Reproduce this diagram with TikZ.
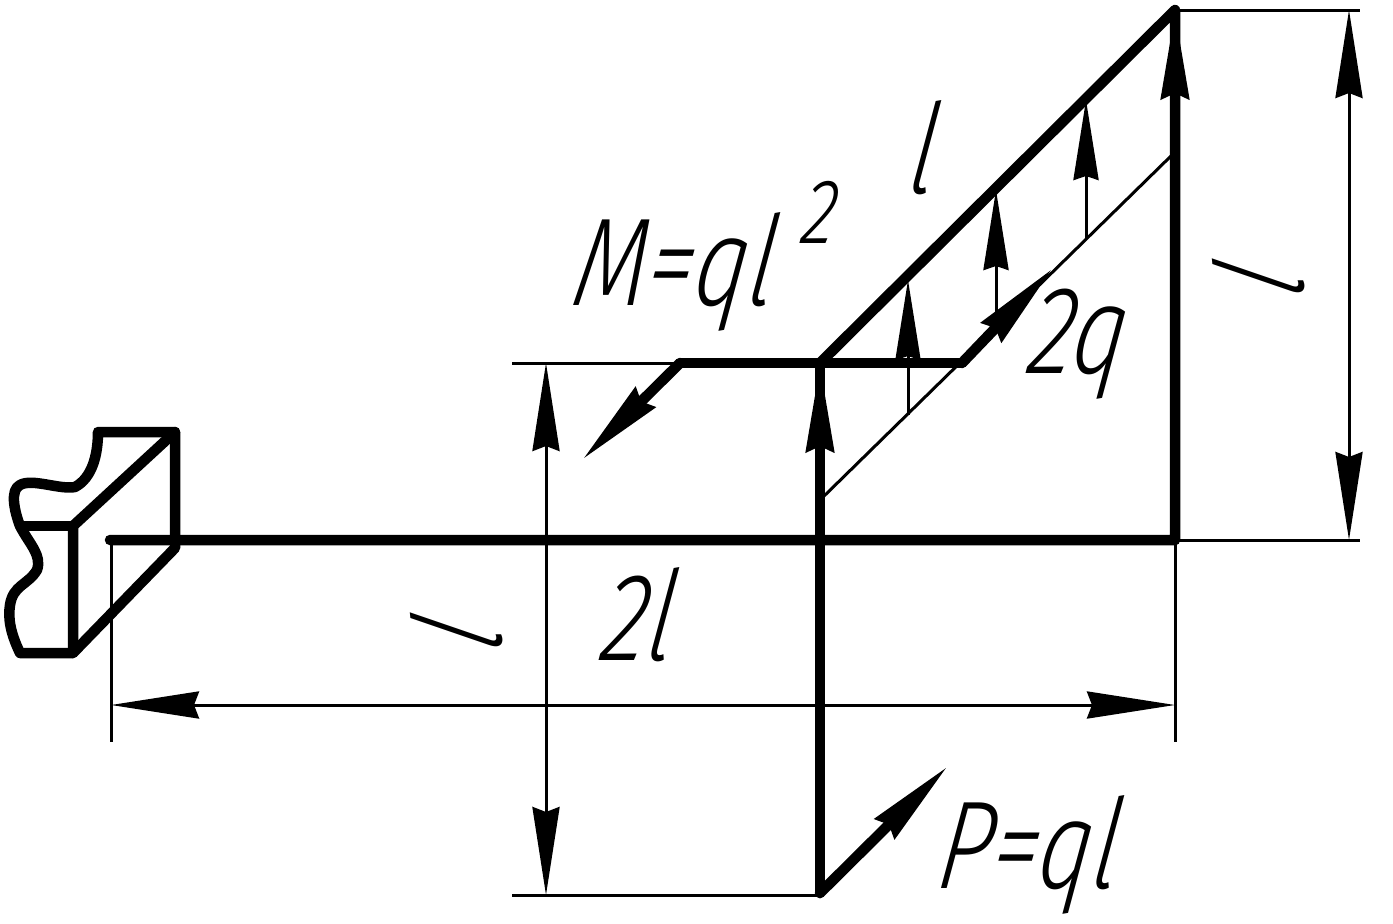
\documentclass[tikz,border=0pt]{standalone}
\usepackage{fontspec}
\usetikzlibrary{arrows.meta}
\newfontfamily\gost[FakeStretch=0.76,FakeSlant=0.16]{Fira Sans Light Italic}
\tikzset{
 x=1pt,y=-1pt,
 thick line/.style={line width=10.5pt,line cap=round,line join=round},
 thin line/.style={line width=3pt},
 BigHead/.tip={Stealth[length=88pt,width=27pt,inset=5pt]},
 DimHead/.tip={Stealth[length=88pt,width=27pt,inset=5pt]},
 SmallHead/.tip={Stealth[length=80pt,width=25pt,inset=4pt]},
 lbl/.style={font=\gost\fontsize{125}{125}\selectfont,inner sep=0pt},
 smalllbl/.style={font=\gost\fontsize{92}{92}\selectfont,inner sep=0pt},
}
\begin{document}
\begin{tikzpicture}
\useasboundingbox (0,0) rectangle (1393,924);
\foreach \n/\x/\y in {A/110/540,B/1175/540,C/1175/10,D/820/363,E/680/363,F/962/363,
  G/820/540,H/820/893,PT/948/766,MT/582/460,QT/1053/268,
  L1/820/500,L2/1172/155,
  V1a/908/415,V1b/908/280,V2a/996/318,V2b/996/190,V3a/1086/238,V3b/1086/100,
  R1/1360/10,R2/1360/540,R3/1349/10,R4/1349/540,
  M1/512/363,M2/512/895,M3/546/363,M4/546/895,M5/820/895,
  B1/111/540,B2/111/742,B3/1175/742,B4/111/705,B5/1175/705,
  S1/98/432,S2/175/432,S3/175/548,S4/73/653,S5/20/653,S6/73/526,S7/20/526}
  {\coordinate (\n) at (\x,\y);}
% thin lines
\draw[thin line] (L1) -- (L2);
\draw[thin line] (C) -- (R1);
\draw[thin line] (B) -- (R2);
\draw[thin line] (M1) -- (D);
\draw[thin line] (M2) -- (M5);
\draw[thin line] (B1) -- (B2);
\draw[thin line] (B) -- (B3);
% dimension lines
\draw[thin line,DimHead-DimHead] (R3) -- (R4);
\draw[thin line,DimHead-DimHead] (M3) -- (M4);
\draw[thin line,DimHead-DimHead] (B4) -- (B5);
% load arrows
\draw[thin line,-SmallHead] (V1a) -- (V1b);
\draw[thin line,-SmallHead] (V2a) -- (V2b);
\draw[thin line,-SmallHead] (V3a) -- (V3b);
% frame
\draw[thick line] (A) -- (B) -- (C) -- (D);
\draw[thick line] (E) -- (F);
\draw[thick line] (D) -- (H);
\draw[thick line,-BigHead] (H) -- (PT);
\draw[thick line,-BigHead] (E) -- (MT);
\draw[thick line,-BigHead] (F) -- (QT);
\draw[thick line,-BigHead] (G) -- (D);
\draw[thick line,-BigHead] (B) -- (C);
% support
\draw[thick line] (S1) -- (S2) -- (S3) -- (S4) -- (S5)
  .. controls (10,632) and (8,618) .. (10,605)
  .. controls (13,585) and (28,585) .. (37,570)
  .. controls (42,555) and (30,545) .. (S7)
  .. controls (14,510) and (10,490) .. (20,485)
  .. controls (32,478) and (60,490) .. (75,487)
  .. controls (92,478) and (98,455) .. (S1);
\draw[thick line] (S2) -- (S6) -- (S4);
\draw[thick line] (S6) -- (S7);
% labels
\node[lbl] (lM) at (671,272) {M=ql};
\node[smalllbl] (l2) at (816,212) {2};
\node[lbl] (lq) at (1074,344) {2q};
\node[lbl] (lP) at (1025,855) {P=ql};
\node[lbl] (l2l) at (634,615) {2l};
\node[lbl] (ll) at (919,148) {l};
\node[lbl,rotate=86] (lr) at (1258,285) {l};
\node[lbl,rotate=86] (lb) at (456,639) {l};
\end{tikzpicture}
\end{document}
